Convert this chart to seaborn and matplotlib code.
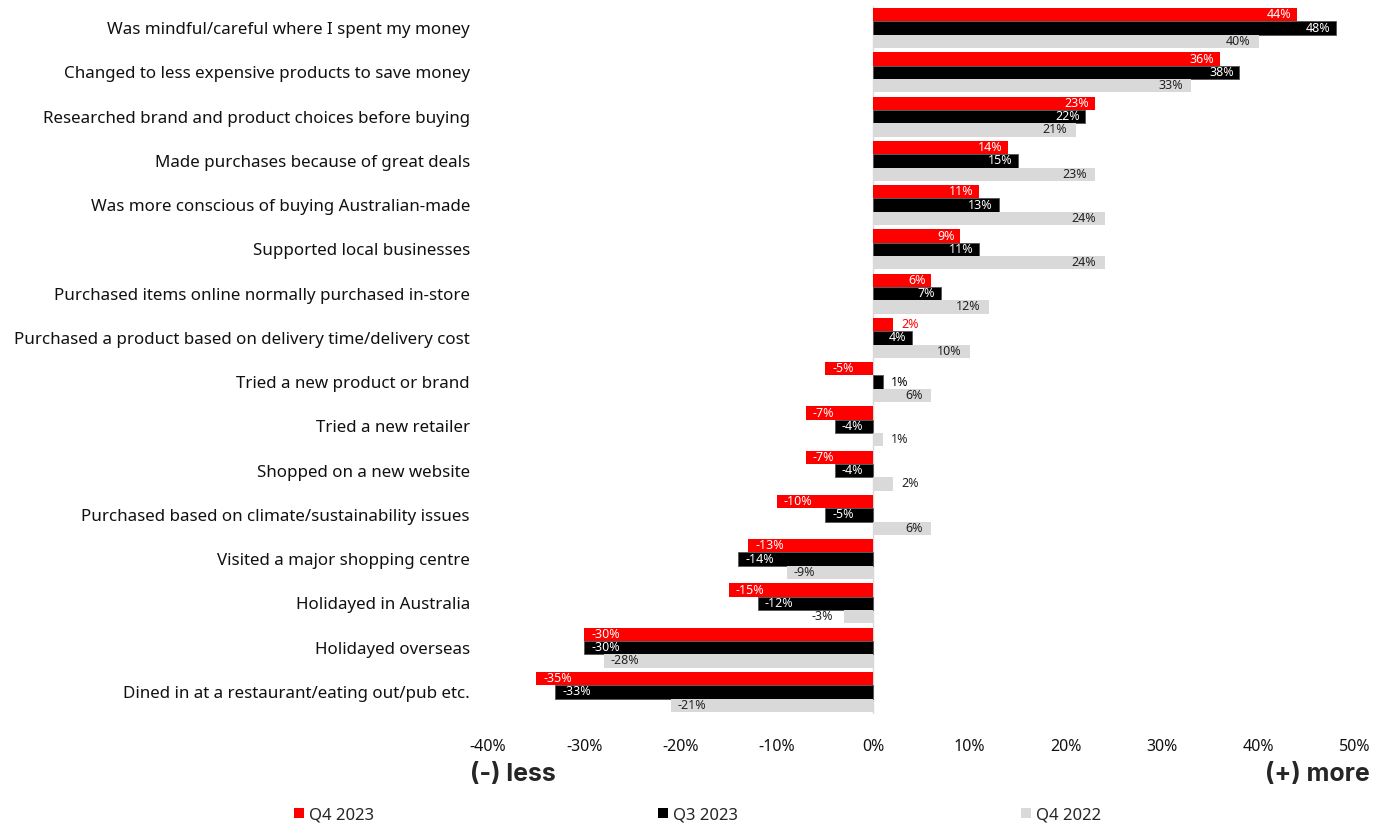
import matplotlib
matplotlib.use("Agg")
import matplotlib.pyplot as plt
import seaborn as sns
import pandas as pd
from matplotlib.patches import Patch

categories = [
    "Was mindful/careful where I spent my money",
    "Changed to less expensive products to save money",
    "Researched brand and product choices before buying",
    "Made purchases because of great deals",
    "Was more conscious of buying Australian-made",
    "Supported local businesses",
    "Purchased items online normally purchased in-store",
    "Purchased a product based on delivery time/delivery cost",
    "Tried a new product or brand",
    "Tried a new retailer",
    "Shopped on a new website",
    "Purchased based on climate/sustainability issues",
    "Visited a major shopping centre",
    "Holidayed in Australia",
    "Holidayed overseas",
    "Dined in at a restaurant/eating out/pub etc.",
]
q4_2023 = [44, 36, 23, 14, 11, 9, 6, 2, -5, -7, -7, -10, -13, -15, -30, -35]
q3_2023 = [48, 38, 22, 15, 13, 11, 7, 4, 1, -4, -4, -5, -14, -12, -30, -33]
q4_2022 = [40, 33, 21, 23, 24, 24, 12, 10, 6, 1, 2, 6, -9, -3, -28, -21]
series_names = ["Q4 2023", "Q3 2023", "Q4 2022"]
series_colors = ["#FF0000", "#000000", "#D9D9D9"]
inside_text_colors = ["white", "white", "#222222"]
outside_text_colors = ["#FF0000", "#000000", "#222222"]
x_ticks = [-40, -30, -20, -10, 0, 10, 20, 30, 40, 50]
x_tick_labels = ["-40%", "-30%", "-20%", "-10%", "0%", "10%", "20%", "30%", "40%", "50%"]

rows = []
for name, vals in zip(series_names, [q4_2023, q3_2023, q4_2022]):
    for c, v in zip(categories, vals):
        rows.append({"category": c, "series": name, "value": v})
df = pd.DataFrame(rows)

sns.set_theme(style="white")
plt.rcParams["font.family"] = ["Noto Sans", "DejaVu Sans"]

fig = plt.figure(figsize=(13.87, 8.25), dpi=100)
ax = fig.add_axes([488 / 1387, 1 - 714 / 825, (1355 - 488) / 1387, (714 - 6) / 825])

sns.barplot(data=df, y="category", x="value", hue="series", order=categories,
            hue_order=series_names, palette=series_colors, orient="h",
            width=0.9, ax=ax, legend=False, errorbar=None, saturation=1)

inset_pos = [4, 4, 6]
for i, cont in enumerate(ax.containers):
    for p in cont.patches:
        p.set_edgecolor("#555555" if i == 1 else "none")
        p.set_linewidth(0.6)
        w = p.get_width()
        x0 = p.get_x()
        yc = p.get_y() + p.get_height() / 2
        end = x0 + w
        label = f"{int(round(w))}%"
        if abs(w) < 3.5:
            if w >= 0:
                ax.annotate(label, (end, yc), xytext=(6, 0), textcoords="offset points",
                            ha="left", va="center", fontsize=9, color=outside_text_colors[i])
            else:
                ax.annotate(label, (end, yc), xytext=(-8, 0), textcoords="offset points",
                            ha="right", va="center", fontsize=9, color=outside_text_colors[i])
        else:
            if w >= 0:
                ax.annotate(label, (end, yc), xytext=(-inset_pos[i], 0), textcoords="offset points",
                            ha="right", va="center", fontsize=9, color=inside_text_colors[i])
            else:
                ax.annotate(label, (end, yc), xytext=(5, 0), textcoords="offset points",
                            ha="left", va="center", fontsize=9, color=inside_text_colors[i])

ax.set_xlim(-40, 50)
ax.set_xticks(x_ticks)
ax.set_xticklabels(x_tick_labels, fontsize=11.5, color="#111111")
ax.tick_params(axis="x", length=0, pad=18)
ax.tick_params(axis="y", length=0, pad=13, labelsize=12.2, labelcolor="#111111")
ax.set_xlabel("")
ax.set_ylabel("")
for s in ax.spines.values():
    s.set_visible(False)
ax.axvline(0, color="#D9D9D9", lw=1, zorder=0)
ax.grid(False)

fig.text(470 / 1387, 1 - 775 / 825, "(-) less", ha="left", va="center",
         fontsize=18, fontweight="bold", family=["Inter", "DejaVu Sans"])
fig.text(1370 / 1387, 1 - 775 / 825, "(+) more", ha="right", va="center",
         fontsize=18, fontweight="bold", family=["Inter", "DejaVu Sans"])

handles = [Patch(facecolor=c, edgecolor="none", label=n) for n, c in zip(series_names, series_colors)]
fig.legend(handles=handles, loc="center", bbox_to_anchor=(0.503, 1 - 815 / 825), ncol=3,
           frameon=False, fontsize=12, handlelength=0.6, handleheight=0.6,
           handletextpad=0.3, columnspacing=17.0)

fig.savefig("out.png", dpi=100)
